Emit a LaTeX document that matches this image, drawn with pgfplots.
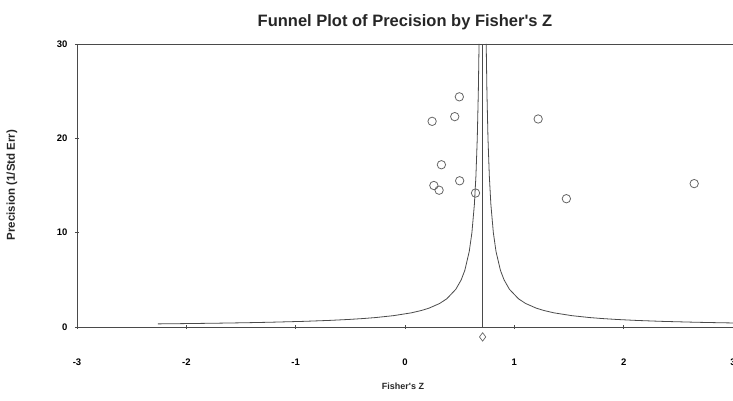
\documentclass[border=0pt]{standalone}
\usepackage{pgfplots}
\pgfplotsset{compat=1.18}
\usepackage{fontspec}
\setmainfont{Liberation Sans}
\definecolor{ax}{HTML}{4A4A4A}
\definecolor{pt}{HTML}{666666}
\begin{document}
\begin{tikzpicture}[x=1pt,y=1pt]
\begin{axis}[
  at={(0,0)}, anchor=south west,
  scale only axis, width=656pt, height=283pt,
  xmin=-3, xmax=3, ymin=0, ymax=30,
  clip=false,
  axis line style={ax, line width=0.9pt},
  xtick={-3,-2,-1,0,1,2,3}, ytick={0,10,20,30},
  tick pos=left, tick align=center,
  major tick length=4pt,
  tick style={ax, line width=0.7pt},
  /pgf/number format/assume math mode=true,
  ticklabel style={font=\fontsize{9.5}{11}\bfseries},
  xticklabel style={yshift=-26pt},
  yticklabel style={xshift=-4pt},
]
% funnel left
\addplot[ax, line width=0.8pt] coordinates {
(-2.260,0.33) (-2.090,0.35) (-1.740,0.4) (-1.468,0.45) (-1.250,0.5) (-0.923,0.6)
(-0.690,0.7) (-0.515,0.8) (-0.379,0.9) (-0.270,1.0) (-0.107,1.2) (0.057,1.5)
(0.150,1.75) (0.220,2) (0.318,2.5) (0.383,3) (0.465,4) (0.514,5) (0.547,6)
(0.5875,8) (0.612,10) (0.6346,13) (0.6487,16) (0.661,20) (0.6708,25) (0.6773,30)};
% funnel right
\addplot[ax, line width=0.8pt] coordinates {
(0.7427,30) (0.7492,25) (0.759,20) (0.7713,16) (0.7854,13) (0.808,10) (0.8325,8)
(0.873,6) (0.906,5) (0.955,4) (1.037,3) (1.102,2.5) (1.200,2) (1.270,1.75)
(1.363,1.5) (1.527,1.2) (1.690,1.0) (1.799,0.9) (1.935,0.8) (2.110,0.7)
(2.343,0.6) (2.670,0.5) (2.888,0.45) (3.000,0.428)};
% mean line
\addplot[ax, line width=0.8pt] coordinates {(0.71,0) (0.71,30)};
% studies
\addplot[only marks, mark=o, mark size=4.2pt, mark options={pt, line width=0.8pt, fill=white}] coordinates {
(0.497,24.4) (0.248,21.8) (0.455,22.3) (1.218,22.05) (0.333,17.2) (0.500,15.5)
(0.264,15.0) (0.312,14.5) (0.645,14.2) (1.476,13.6) (2.645,15.2)};
% summary diamond
\addplot[only marks, mark=diamond, mark size=4.2pt, mark options={pt, line width=0.7pt, fill=white}] coordinates {(0.71,-1.05)};
\end{axis}
\node[font=\fontsize{16.5}{19}\bfseries, text=black!85] at (328pt,305pt) {Funnel Plot of Precision by Fisher\textquotesingle s Z};
\node[font=\fontsize{9}{11}\bfseries, text=black!85] at (326pt,-59pt) {Fisher\textquotesingle s Z};
\node[font=\fontsize{11.5}{13}\bfseries, text=black!85, rotate=90] at (-65pt,142pt) {Precision (1/Std Err)};
\pgfresetboundingbox
\path[use as bounding box] (-77pt,-74pt) rectangle (656pt,327pt);
\end{tikzpicture}
\end{document}
